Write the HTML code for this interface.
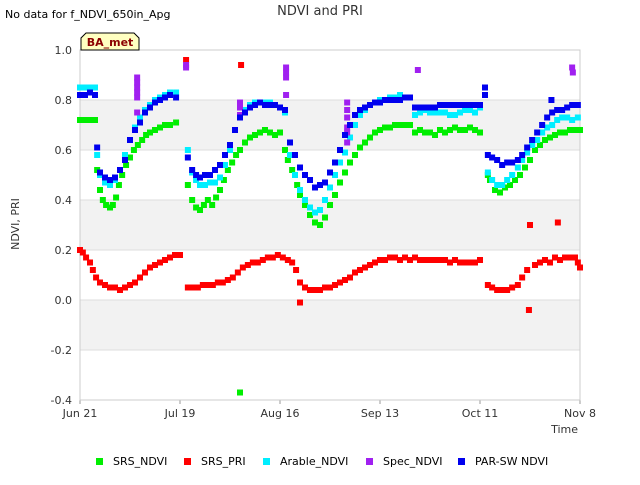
<!DOCTYPE html>
<html><head><meta charset="utf-8"><style>
body{margin:0;background:#fff;font-family:"Liberation Sans",sans-serif;}
svg text{font-family:"DejaVu Sans","Liberation Sans",sans-serif;}
</style></head><body>
<svg id="c" width="640" height="480" xmlns="http://www.w3.org/2000/svg">
<rect width="640" height="480" fill="#fff"/>
<text x="5" y="18" font-size="11" fill="#000">No data for f_NDVI_650in_Apg</text>
<text x="320" y="15" font-size="13" fill="#333" text-anchor="middle">NDVI and PRI</text>
<g id="plot"></g>
<text x="19" y="224" font-size="11" fill="#333" text-anchor="middle" transform="rotate(-90 19 224)">NDVI, PRI</text>
<text x="578" y="433" font-size="11" fill="#333" text-anchor="end">Time</text>
<g>
<path d="M81,50 L81,38 L86,33 L134,33 L139,38 L139,50 Z" fill="#ffffc0" stroke="#000" stroke-width="1"/>
<text x="110" y="46" font-size="11" font-weight="bold" fill="#8b0000" text-anchor="middle">BA_met</text>
</g>
<g id="legend"></g>
</svg>
<script>
const xTickLabels=["Jun 21","Jul 19","Aug 16","Sep 13","Oct 11","Nov 8"];
const yTicks=[-0.4,-0.2,0,0.2,0.4,0.6,0.8,1.0];
const yTickLabels=["-0.4","-0.2","0.0","0.2","0.4","0.6","0.8","1.0"];
const seriesNames=["SRS_NDVI","SRS_PRI","Arable_NDVI","Spec_NDVI","PAR-SW NDVI"];
const seriesColors=["#00ee00","#ff0000","#00eeff","#a020f0","#0000ee"];
const srsNdvi=[[0,0.72],[1.4,0.72],[2.8,0.72],[4.2,0.72],[4.8,0.52],[5.6,0.44],[6.4,0.40],[7.3,0.38],[8.4,0.37],[9.2,0.38],[10.1,0.41],[10.9,0.46],[11.8,0.50],[12.9,0.54],[14,0.57],[15.1,0.60],[16.2,0.62],[17.4,0.64],[18.5,0.66],[19.6,0.67],[21,0.68],[22.4,0.69],[23.8,0.70],[25.2,0.70],[26.9,0.71],[30.2,0.46],[31.4,0.40],[32.5,0.37],[33.6,0.36],[34.7,0.38],[35.8,0.40],[37,0.38],[38.1,0.41],[39.2,0.44],[40.3,0.48],[41.4,0.52],[42.6,0.55],[43.7,0.58],[44.8,0.60],[46.2,0.63],[47.6,0.65],[49,0.66],[50.4,0.67],[51.8,0.68],[53.2,0.67],[54.6,0.66],[56,0.67],[57.4,0.60],[58.2,0.56],[59.4,0.52],[60.8,0.46],[61.6,0.42],[63,0.38],[64.4,0.34],[65.8,0.31],[67.2,0.30],[68.6,0.33],[70,0.38],[71.4,0.42],[72.8,0.47],[74.2,0.51],[75.6,0.55],[77,0.58],[78.4,0.61],[79.8,0.63],[81.2,0.65],[82.6,0.67],[84,0.68],[85.4,0.69],[86.8,0.69],[88.2,0.70],[89.6,0.70],[91,0.70],[92.4,0.70],[93.8,0.67],[95.2,0.68],[96.6,0.67],[98,0.67],[99.4,0.66],[100.8,0.68],[102.2,0.67],[103.6,0.68],[105,0.69],[106.4,0.68],[107.8,0.68],[109.2,0.69],[110.6,0.68],[112,0.67],[114.2,0.50],[114.8,0.48],[116.2,0.44],[117.6,0.43],[119,0.45],[120.4,0.46],[121.8,0.48],[123.2,0.50],[124.6,0.53],[126,0.56],[127.4,0.60],[128.8,0.62],[130.2,0.64],[131.6,0.65],[133,0.66],[134.4,0.67],[135.8,0.67],[137.2,0.68],[138.6,0.68],[140,0.68],[44.8,-0.37]];
const srsPri=[[0,0.20],[0.8,0.19],[1.7,0.17],[2.8,0.15],[3.6,0.12],[4.5,0.09],[5.6,0.07],[7,0.06],[8.4,0.05],[9.8,0.05],[11.2,0.04],[12.6,0.05],[14,0.06],[15.4,0.07],[16.8,0.09],[18.2,0.11],[19.6,0.13],[21,0.14],[22.4,0.15],[23.8,0.16],[25.2,0.17],[26.6,0.18],[28,0.18],[29.7,0.96],[30.2,0.05],[31.6,0.05],[33,0.05],[34.4,0.06],[35.8,0.06],[37.2,0.06],[38.6,0.07],[40,0.07],[41.4,0.08],[42.8,0.09],[44.2,0.11],[45.1,0.94],[45.6,0.13],[47,0.14],[48.4,0.15],[49.8,0.15],[51.2,0.16],[52.6,0.17],[54,0.17],[55.4,0.18],[56.8,0.17],[58.2,0.16],[59.4,0.15],[60.5,0.12],[61.6,0.07],[61.6,-0.01],[63,0.05],[64.4,0.04],[65.8,0.04],[67.2,0.04],[68.6,0.05],[70,0.05],[71.4,0.06],[72.8,0.07],[74.2,0.08],[75.6,0.09],[77,0.11],[78.4,0.12],[79.8,0.13],[81.2,0.14],[82.6,0.15],[84,0.16],[85.4,0.16],[86.8,0.17],[88.2,0.17],[89.6,0.16],[91,0.17],[92.4,0.16],[93.8,0.17],[95.2,0.16],[96.6,0.16],[98,0.16],[99.4,0.16],[100.8,0.16],[102.2,0.16],[103.6,0.15],[105,0.16],[106.4,0.15],[107.8,0.15],[109.2,0.15],[110.6,0.15],[112,0.16],[114.2,0.06],[115.4,0.05],[116.8,0.04],[118.2,0.04],[119.6,0.04],[121,0.05],[122.6,0.06],[123.8,0.09],[125.2,0.12],[126,0.30],[125.7,-0.04],[127.4,0.14],[128.8,0.15],[130.2,0.16],[131.6,0.15],[133,0.17],[133.8,0.31],[134.4,0.16],[135.8,0.17],[137.2,0.17],[138.6,0.17],[139.4,0.15],[140,0.13]];
const arableNdvi=[[0,0.85],[1.4,0.85],[2.8,0.85],[4.2,0.85],[4.8,0.58],[5.6,0.50],[7,0.47],[8.4,0.46],[9.8,0.48],[11.2,0.52],[12.6,0.58],[14,0.64],[15.4,0.69],[16.8,0.73],[18.2,0.76],[19.6,0.78],[21,0.80],[22.4,0.81],[23.8,0.82],[25.2,0.83],[26.9,0.83],[30.2,0.60],[31.4,0.51],[32.5,0.48],[33.6,0.46],[35,0.46],[36.4,0.47],[37.8,0.47],[39.2,0.49],[40.6,0.54],[42,0.60],[43.4,0.68],[44.8,0.74],[46.2,0.76],[47.6,0.78],[49,0.79],[50.4,0.79],[51.8,0.79],[53.2,0.79],[54.6,0.78],[56,0.77],[57.4,0.75],[58.8,0.58],[60.2,0.50],[61.6,0.44],[63,0.40],[64.4,0.37],[65.8,0.35],[67.2,0.36],[68.6,0.40],[70,0.45],[71.4,0.50],[72.8,0.55],[74.2,0.59],[75.6,0.65],[77,0.70],[78.4,0.74],[79.8,0.76],[81.2,0.78],[82.6,0.79],[84,0.80],[85.4,0.80],[86.8,0.81],[88.2,0.81],[89.6,0.82],[91,0.81],[92.4,0.81],[93.8,0.74],[95.2,0.75],[96.6,0.76],[98,0.75],[99.4,0.75],[100.8,0.75],[102.2,0.75],[103.6,0.74],[105,0.74],[106.4,0.75],[107.8,0.76],[109.2,0.76],[110.6,0.75],[112,0.77],[114.2,0.51],[115.4,0.48],[116.8,0.46],[118.2,0.46],[119.6,0.48],[121,0.50],[122.6,0.53],[123.8,0.56],[125.2,0.59],[126.6,0.62],[128,0.64],[129.4,0.67],[130.8,0.69],[132.2,0.70],[133.6,0.72],[135,0.73],[136.4,0.73],[137.8,0.72],[139.4,0.73]];
const specNdvi=[[16,0.89],[16,0.87],[16,0.85],[16,0.83],[16,0.81],[16,0.75],[29.7,0.94],[29.7,0.93],[44.8,0.79],[44.8,0.77],[44.8,0.74],[57.7,0.93],[57.7,0.91],[57.7,0.89],[57.7,0.82],[74.8,0.79],[74.8,0.76],[74.8,0.73],[74.8,0.69],[74.8,0.67],[74.8,0.63],[94.6,0.92],[137.8,0.93],[138,0.91]];
const parNdvi=[[0,0.82],[1.4,0.82],[2.8,0.83],[4.2,0.82],[4.8,0.61],[5.6,0.51],[7,0.49],[8.4,0.48],[9.8,0.49],[11.2,0.52],[12.6,0.56],[14,0.64],[15.4,0.68],[16.8,0.71],[18.2,0.75],[19.6,0.77],[21,0.79],[22.4,0.80],[23.8,0.81],[25.2,0.82],[26.9,0.81],[30.2,0.57],[31.4,0.52],[32.5,0.50],[33.6,0.49],[35,0.50],[36.4,0.50],[37.8,0.52],[39.2,0.54],[40.6,0.58],[42,0.62],[43.4,0.68],[44.8,0.73],[46.2,0.75],[47.6,0.77],[49,0.78],[50.4,0.79],[51.8,0.78],[53.2,0.78],[54.6,0.78],[56,0.77],[57.4,0.76],[58.8,0.63],[60.2,0.58],[61.6,0.53],[63,0.50],[64.4,0.48],[65.8,0.45],[67.2,0.46],[68.6,0.47],[70,0.51],[71.4,0.55],[72.8,0.60],[74.2,0.66],[75.6,0.70],[77,0.74],[78.4,0.76],[79.8,0.77],[81.2,0.78],[82.6,0.79],[84,0.79],[85.4,0.80],[86.8,0.80],[88.2,0.80],[89.6,0.80],[91,0.81],[92.4,0.81],[93.8,0.77],[95.2,0.77],[96.6,0.77],[98,0.77],[99.4,0.77],[100.8,0.78],[102.2,0.78],[103.6,0.78],[105,0.78],[106.4,0.78],[107.8,0.78],[109.2,0.78],[110.6,0.78],[112,0.78],[114.2,0.58],[115.4,0.57],[116.8,0.56],[118.2,0.54],[119.6,0.55],[121,0.55],[122.6,0.56],[123.8,0.58],[125.2,0.61],[126.6,0.64],[128,0.67],[129.4,0.70],[130.8,0.73],[132.2,0.75],[133.6,0.76],[135,0.76],[136.4,0.77],[137.8,0.78],[139.4,0.78],[113.4,0.85],[113.4,0.82],[132,0.80]];

const X0=80,X1=580,Y0=400,Y1=50,DAYS=140,YMIN=-0.4,YMAX=1.0;
const xs=d=>X0+(d/DAYS)*(X1-X0);
const ys=v=>Y0-(v-YMIN)/(YMAX-YMIN)*(Y0-Y1);
const NS="http://www.w3.org/2000/svg";
const plot=document.getElementById('plot');
function mk(tag,attrs,parent){const e=document.createElementNS(NS,tag);for(const k in attrs)e.setAttribute(k,attrs[k]);(parent||plot).appendChild(e);return e;}
// bands
for(let i=0;i<yTicks.length-1;i++){
  const a=yTicks[i],b=yTicks[i+1];
  const shaded=(i%2===1);
  const r=mk('rect',{x:X0,y:ys(b),width:X1-X0,height:ys(a)-ys(b),fill:shaded?'#f2f2f2':'#ffffff'});
  
  
}
yTicks.forEach((t,i)=>{
  const l=mk('line',{x1:X0,x2:X1,y1:ys(t),y2:ys(t),stroke:'#dddddd','stroke-width':1});
  
  
  const tx=mk('text',{x:72,y:ys(t)+4,'font-size':11,fill:'#333','text-anchor':'end'});
  tx.textContent=yTickLabels[i];
  
  
});
xTickLabels.forEach((s,i)=>{
  const x=xs(i*28);
  const tk=mk('line',{x1:x,x2:x,y1:Y0,y2:Y0+4,stroke:'#999'});
  
  
  const tx=mk('text',{x:x,y:417,'font-size':11,fill:'#333','text-anchor':'middle'});
  tx.textContent=s;
  
  
});
const frame=mk('rect',{x:X0,y:Y1,width:X1-X0,height:Y0-Y1,fill:'none',stroke:'#cccccc'});


function series(data,color,name){
  const g=mk('g',{});
  
  
  data.forEach(p=>{
    const r=mk('rect',{x:xs(p[0])-3,y:ys(p[1])-3,width:6,height:6,fill:color},g);
    
    
  });
}
series(srsNdvi,seriesColors[0],'srs-ndvi-series');
series(srsPri,seriesColors[1],'srs-pri-series');
series(arableNdvi,seriesColors[2],'arable-ndvi-series');
series(specNdvi,seriesColors[3],'spec-ndvi-series');
series(parNdvi,seriesColors[4],'par-sw-ndvi-series');
// legend
const legend=document.getElementById('legend');
const legX=[99,187,266,369,461];
seriesNames.forEach((n,i)=>{
  const g=mk('g',{},legend);
  
  
  mk('rect',{x:legX[i]-3,y:458,width:7,height:7,fill:seriesColors[i]},g);
  const t=mk('text',{x:legX[i]+14,y:465,'font-size':11,fill:'#000'},g);
  t.textContent=n;
});
</script>
</body></html>
